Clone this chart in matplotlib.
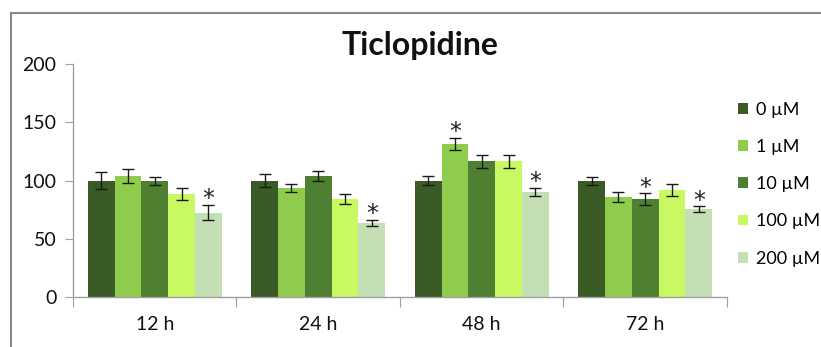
import matplotlib
matplotlib.use('Agg')
import matplotlib.pyplot as plt
import numpy as np
from matplotlib.lines import Line2D

plt.rcParams['font.family'] = ['Lato', 'DejaVu Sans']

# viabilidade (%) por tempo de exposição e concentração
tempos = ['12 h', '24 h', '48 h', '72 h']
concentracoes = ['0 µM', '1 µM', '10 µM', '100 µM', '200 µM']
cores = ['#3a5a26', '#8fcc4e', '#4f7f31', '#c8f862', '#c4dfb3']

media = {
    '0 µM':   [100, 100, 100, 100],
    '1 µM':   [104, 93.5, 131.5, 86],
    '10 µM':  [100, 104, 116.5, 84],
    '100 µM': [88.5, 84, 116.5, 92],
    '200 µM': [72.5, 63.5, 90.5, 75.5],
}
erro = {
    '0 µM':   [7.3, 5.6, 3.6, 3.4],
    '1 µM':   [5.6, 3.6, 5.5, 4.3],
    '10 µM':  [3.5, 3.9, 5.7, 5.2],
    '100 µM': [5.0, 4.3, 5.2, 4.9],
    '200 µM': [6.6, 2.7, 3.5, 2.5],
}
# diferença significativa (*)
signif = {
    '0 µM':   [0, 0, 0, 0],
    '1 µM':   [0, 0, 1, 0],
    '10 µM':  [0, 0, 0, 1],
    '100 µM': [0, 0, 0, 0],
    '200 µM': [1, 1, 1, 1],
}

fig = plt.figure(figsize=(8.21, 3.47), dpi=100)
ax = fig.add_axes([0.0889, 0.1441, 0.7966, 0.6706])

largura = 0.164
centros = np.arange(len(tempos)) + 0.5
for i, c in enumerate(concentracoes):
    x = centros + (i - 2) * largura
    ax.bar(x, media[c], width=largura, color=cores[i], label=c, zorder=2)
    ax.errorbar(x, media[c], yerr=erro[c], fmt='none', ecolor='#1a1a1a',
                elinewidth=1, capsize=4, capthick=1, zorder=3)
    for xi, m, e, s in zip(x, media[c], erro[c], signif[c]):
        if s:
            ax.annotate('*', (xi, m + e), xytext=(0, -1), textcoords='offset points',
                        ha='center', va='baseline', fontsize=17, color='#222222',
                        family='DejaVu Sans')

ax.set_xlim(0, 4)
ax.set_ylim(0, 200)
ax.set_yticks([0, 50, 100, 150, 200])
ax.set_xticks([0, 1, 2, 3, 4])
ax.set_xticklabels([])
ax.set_xticks(centros, minor=True)
ax.set_xticklabels(tempos, minor=True)
ax.tick_params(axis='x', which='major', length=7, direction='out', color='#a0a0a0')
ax.tick_params(axis='x', which='minor', length=0, pad=14, labelsize=14, labelcolor='#111111')
ax.tick_params(axis='y', length=6, color='#a0a0a0', labelsize=14, labelcolor='#111111', pad=6)

for lado in ['top', 'right']:
    ax.spines[lado].set_visible(False)
for lado in ['left', 'bottom']:
    ax.spines[lado].set_color('#a0a0a0')
    ax.spines[lado].set_linewidth(1)

fig.text(0.512, 0.87, 'Ticlopidine', ha='center', va='center',
         fontsize=23, fontweight='bold', color='#111111')

fig.legend(loc='upper left', bbox_to_anchor=(0.899, 0.706), frameon=False,
           fontsize=13, handlelength=0.55, handleheight=0.55, handletextpad=0.45,
           labelspacing=1.17, borderpad=0, borderaxespad=0)

# moldura cinza do quadro
fig.add_artist(Line2D([11 / 821, 1], [1 - 13 / 347] * 2, transform=fig.transFigure,
                      color='#8a8a8a', linewidth=1.5))
fig.add_artist(Line2D([11 / 821] * 2, [0, 1 - 13 / 347], transform=fig.transFigure,
                      color='#8a8a8a', linewidth=1.5))

fig.savefig('out.png', dpi=100)
